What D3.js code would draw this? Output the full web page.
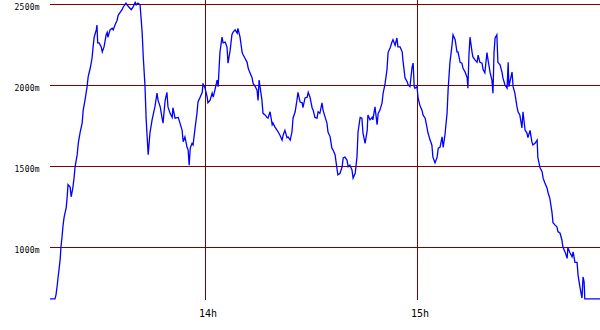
<!DOCTYPE html>
<html>
<head>
<meta charset="utf-8">
<script src="https://cdn.jsdelivr.net/npm/d3@7"></script>
<style>
  body { margin: 0; background: #fff; }
  svg { display: block; }
</style>
</head>
<body>
<div id="chart"></div>
<script>
// altitude profile, time in minutes after 13:00, altitude in metres
const minutes = [
  16.1, 17.5, 17.8, 18.1, 18.4, 18.7, 19.0, 19.2, 19.5, 19.8, 20.1, 20.7, 21.0, 21.2, 21.8, 22.1,
  22.6, 22.9, 23.2, 23.8, 24.1, 24.6, 25.2, 25.5, 26.0, 26.6, 26.9, 27.5, 28.0, 28.3, 28.6, 29.2,
  29.4, 29.6, 30.0, 30.6, 30.9, 31.4, 32.0, 32.3, 32.5, 33.1, 33.7, 34.0, 34.5, 35.1, 35.4, 36.0,
  36.5, 36.8, 37.6, 37.9, 38.5, 39.1, 39.6, 40.2, 40.5, 41.0, 41.6, 42.2, 42.5, 43.0, 43.3, 43.6,
  43.9, 44.4, 45.0, 45.3, 45.8, 46.4, 46.7, 47.3, 47.8, 48.1, 48.7, 49.2, 49.5, 50.1, 50.7, 50.9,
  51.5, 52.4, 52.9, 53.5, 53.8, 54.3, 54.9, 55.2, 55.5, 55.8, 56.3, 56.6, 57.2, 57.7, 58.0, 58.6,
  59.2, 59.4, 60.0, 60.6, 60.8, 61.4, 62.0, 62.3, 62.8, 63.4, 63.7, 64.2, 64.8, 65.1, 65.7, 66.2,
  66.5, 67.1, 67.6, 67.9, 68.5, 69.1, 69.3, 69.9, 70.5, 70.8, 71.3, 71.9, 72.2, 72.7, 73.3, 73.6,
  74.2, 74.7, 75.0, 75.3, 76.1, 76.4, 77.0, 77.5, 77.8, 78.4, 79.0, 79.2, 79.8, 80.4, 80.7, 81.2,
  81.8, 82.1, 82.6, 83.2, 83.5, 84.1, 84.6, 84.9, 85.5, 86.0, 86.3, 86.9, 87.5, 87.7, 88.3, 88.9,
  89.2, 89.7, 90.3, 90.6, 91.1, 91.7, 92.0, 92.5, 93.1, 93.4, 94.0, 94.5, 94.8, 95.4, 95.9, 96.2,
  96.8, 97.4, 97.6, 98.2, 98.8, 99.1, 99.6, 100.2, 100.5, 101.0, 101.6, 101.9, 102.5, 103.0, 103.3, 103.9,
  104.4, 104.7, 105.3, 105.9, 106.1, 106.7, 107.3, 107.5, 108.1, 108.7, 109.0, 109.5, 110.1, 110.4, 110.9, 111.5,
  111.8, 112.4, 112.9, 113.2, 113.8, 114.3, 114.6, 115.2, 115.8, 116.0, 116.6, 117.2, 117.5, 118.0, 118.6, 118.9,
  119.2, 119.4, 120.0, 120.3, 120.8, 121.4, 121.7, 122.3, 122.8, 123.1, 123.7, 124.2, 124.5, 125.1, 125.7, 126.0,
  126.5, 127.1, 127.4, 127.9, 128.5, 128.8, 129.3, 129.9, 130.2, 130.8, 131.3, 131.6, 132.2, 132.7, 133.0, 133.6,
  134.2, 134.4, 134.7, 135.0, 135.6, 135.8, 136.4, 137.0, 137.3, 137.8, 138.4, 138.7, 139.2, 139.8, 140.1, 140.7,
  141.2, 141.5, 141.8, 142.1, 142.6, 142.9, 143.5, 144.1, 144.3, 144.9, 145.5, 145.8, 146.0, 146.9, 147.2, 147.7,
  148.3, 148.6, 149.1, 149.7, 150.0, 150.6, 151.1, 151.4, 152.0, 152.5, 152.8, 153.4, 154.0, 154.2, 154.8, 155.4,
  155.7, 156.2, 156.8, 157.1, 157.6, 158.2, 158.5, 159.1, 159.6, 159.9, 160.5, 161.0, 161.3, 161.9, 162.5, 162.7,
  163.3, 163.9, 164.2, 164.7, 165.3, 165.6, 166.1, 166.7, 167.0, 167.3, 167.5, 171.8
];
const altitude = [
  680, 680, 705, 755, 815, 870, 930, 1000, 1060, 1135, 1185, 1245, 1320, 1385, 1370, 1310,
  1370, 1425, 1495, 1570, 1640, 1705, 1765, 1845, 1905, 1990, 2050, 2105, 2165, 2235, 2295, 2340,
  2370, 2260, 2260, 2235, 2205, 2235, 2310, 2325, 2295, 2340, 2350, 2340, 2370, 2400, 2430, 2450,
  2465, 2480, 2505, 2495, 2480, 2465, 2480, 2510, 2495, 2505, 2495, 2320, 2175, 1990, 1800, 1680,
  1570, 1705, 1785, 1815, 1865, 1950, 1905, 1865, 1800, 1765, 1905, 1955, 1865, 1825, 1800, 1860,
  1795, 1800, 1765, 1720, 1650, 1680, 1615, 1600, 1505, 1610, 1640, 1630, 1740, 1825, 1895, 1925,
  1955, 2010, 1980, 1925, 1890, 1905, 1950, 1925, 1970, 2030, 1990, 2200, 2295, 2260, 2265, 2235,
  2135, 2215, 2310, 2325, 2340, 2320, 2350, 2295, 2200, 2185, 2165, 2140, 2105, 2075, 2045, 2010,
  1990, 1970, 1905, 2030, 1905, 1825, 1815, 1800, 1795, 1835, 1755, 1765, 1740, 1720, 1710, 1690,
  1660, 1690, 1720, 1675, 1680, 1660, 1710, 1795, 1835, 1905, 1955, 1895, 1890, 1860, 1920, 1925,
  1955, 1925, 1860, 1845, 1800, 1795, 1835, 1825, 1890, 1845, 1800, 1765, 1710, 1680, 1610, 1600,
  1570, 1475, 1445, 1455, 1495, 1550, 1555, 1535, 1495, 1505, 1475, 1425, 1455, 1555, 1710, 1800,
  1795, 1705, 1640, 1720, 1815, 1785, 1800, 1785, 1865, 1755, 1825, 1845, 1890, 1950, 2000, 2095,
  2200, 2230, 2265, 2280, 2245, 2290, 2235, 2235, 2205, 2155, 2045, 2020, 2000, 1990, 2110, 2135,
  1990, 1980, 1990, 1920, 1875, 1845, 1815, 1795, 1740, 1705, 1660, 1630, 1555, 1520, 1555, 1610,
  1615, 1680, 1615, 1690, 1825, 1970, 2135, 2245, 2310, 2280, 2205, 2205, 2140, 2135, 2105, 2080,
  2045, 1980, 2185, 2295, 2200, 2175, 2155, 2140, 2185, 2140, 2135, 2095, 2075, 2200, 2155, 2075,
  2030, 1950, 2200, 2290, 2310, 2140, 2125, 2075, 2045, 2000, 1980, 2140, 1990, 2080, 1990, 1950,
  1865, 1835, 1815, 1735, 1835, 1720, 1705, 1675, 1720, 1650, 1630, 1640, 1660, 1555, 1490, 1465,
  1425, 1395, 1365, 1335, 1300, 1215, 1150, 1135, 1125, 1095, 1085, 1045, 1000, 970, 930, 995,
  965, 940, 970, 905, 905, 825, 755, 685, 815, 785, 680, 680
];

const altTicks = [1000, 1500, 2000, 2500];
const altLabels = ['1000m', '1500m', '2000m', '2500m'];
const hourTicks = [60, 120];
const hourLabels = ['14h', '15h'];

const width = 600, height = 330;
const plotLeft = 50, plotRight = 600, plotTop = 4, plotBottom = 300;
const gridColor = '#800000';

const data = minutes.map((m, i) => ({ t: m, alt: altitude[i] }));

const x = d3.scaleLinear()
  .domain(d3.extent(minutes))
  .range([plotLeft, plotRight]);
const y = d3.scaleLinear()
  .domain([673, 2500])
  .range([plotBottom, plotTop]);

const svg = d3.select('#chart').append('svg')
  .attr('width', width)
  .attr('height', height);

// horizontal grid
svg.append('g')
  .selectAll('line')
  .data(altTicks)
  .join('line')
  .attr('x1', plotLeft)
  .attr('x2', plotRight)
  .attr('y1', d => Math.round(y(d)) + 0.5)
  .attr('y2', d => Math.round(y(d)) + 0.5)
  .attr('stroke', gridColor)
  .attr('stroke-width', 1)
  .attr('shape-rendering', 'crispEdges');

// vertical grid (hours)
svg.append('g')
  .selectAll('line')
  .data(hourTicks)
  .join('line')
  .attr('x1', d => Math.round(x(d)) + 0.5)
  .attr('x2', d => Math.round(x(d)) + 0.5)
  .attr('y1', 0)
  .attr('y2', plotBottom)
  .attr('stroke', gridColor)
  .attr('stroke-width', 1)
  .attr('shape-rendering', 'crispEdges');

// altitude labels
svg.append('g')
  .selectAll('text')
  .data(altTicks)
  .join('text')
  .attr('x', 40)
  .attr('y', d => Math.round(y(d)) + 6)
  .attr('text-anchor', 'end')
  .attr('font-family', 'DejaVu Sans Mono, monospace')
  .attr('font-size', '8px')
  .attr('letter-spacing', '0.3px')
  .attr('fill', '#000')
  .text((d, i) => altLabels[i]);

// hour labels
svg.append('g')
  .selectAll('text')
  .data(hourTicks)
  .join('text')
  .attr('x', d => Math.round(x(d)) - 6)
  .attr('y', 317)
  .attr('font-family', 'DejaVu Sans Mono, monospace')
  .attr('font-size', '10px')
  .attr('fill', '#000')
  .text((d, i) => hourLabels[i]);

// profile
const line = d3.line()
  .x(d => x(d.t))
  .y(d => y(d.alt));

svg.append('path')
  .datum(data)
  .attr('d', line)
  .attr('fill', 'none')
  .attr('stroke', '#0000ff')
  .attr('stroke-width', 1.3);
</script>
</body>
</html>
